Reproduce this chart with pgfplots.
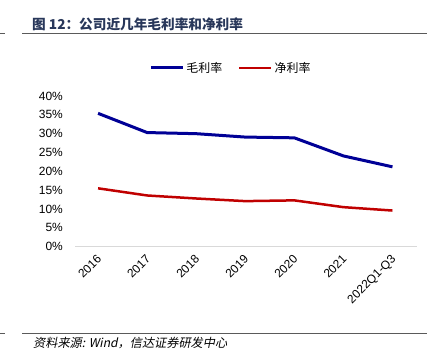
\documentclass[border=0pt]{standalone}
\usepackage{pgfplots}
\pgfplotsset{compat=1.18}
\usepackage{fontspec}
\setmainfont{Liberation Sans}
\newfontfamily\cjk{Noto Sans CJK SC}
\newfontfamily\cjkit[FakeSlant=0.2]{Noto Sans CJK SC}
\definecolor{myblue}{RGB}{0,0,150}
\definecolor{myred}{RGB}{192,0,0}
\definecolor{titleblue}{RGB}{40,55,90}
\definecolor{rule}{RGB}{90,90,90}
\begin{document}
\begin{tikzpicture}[x=1bp,y=-1bp]
\useasboundingbox (0,0) rectangle (439,353);
% title and rules
\node[anchor=west,inner sep=0,text=titleblue,font=\cjk\bfseries\fontsize{13.7}{15}\selectfont] at (32,24) {图 12：公司近几年毛利率和净利率};
\draw[rule,line width=1bp] (22,33) -- (427,33);
\draw[rule,line width=1bp] (0,33) -- (5,33);
\draw[rule,line width=1bp] (22,333) -- (427,333);
\draw[rule,line width=1bp] (0,333) -- (5,333);
\node[anchor=west,inner sep=0,font=\cjkit\fontsize{12.2}{14}\selectfont] at (33,343) {资料来源: \textit{Wind}，信达证券研发中心};
\begin{axis}[
  at={(75bp,-246.7bp)}, anchor=south west,
  scale only axis, width=342bp, height=150.7bp,
  xmin=-0.47, xmax=6.5, ymin=0, ymax=40,
  axis y line*=left,
  y axis line style={draw=none},
  axis x line*=bottom,
  x axis line style={draw=black!15,line width=0.8bp,-},
  xtick={0,...,6},
  xticklabels={2016,2017,2018,2019,2020,2021,2022Q1-Q3},
  major tick length=0pt,
  ytick={0,5,...,40},
  yticklabel={\pgfmathprintnumber{\tick}\%},
  /pgf/number format/assume math mode=true,
  ticklabel style={font=\fontsize{12}{14}\selectfont},
  yticklabel style={anchor=east,inner sep=0pt,xshift=-12bp},
  xticklabel style={anchor=north east,inner sep=0pt,xshift=-2bp,yshift=-7bp,rotate=45},
  legend style={at={(axis description cs:0.456,1.186)},anchor=center,draw=none,
    legend columns=2,font=\cjk\fontsize{12}{14}\selectfont,
    /tikz/every even column/.append style={column sep=14bp}},
  legend image code/.code={\draw[#1,line cap=butt] (0bp,0bp) -- (32bp,0bp);},
  clip=false,
]
\addplot[myblue,line width=3bp] coordinates {(0,35.4) (1,30.3) (2,30.0) (3,29.1) (4,28.9) (5,24.1) (6,21.2)};
\addlegendentry{毛利率}
\addplot[myred,line width=2.5bp] coordinates {(0,15.5) (1,13.6) (2,12.8) (3,12.1) (4,12.3) (5,10.5) (6,9.6)};
\addlegendentry{净利率}
\end{axis}
\end{tikzpicture}
\end{document}
